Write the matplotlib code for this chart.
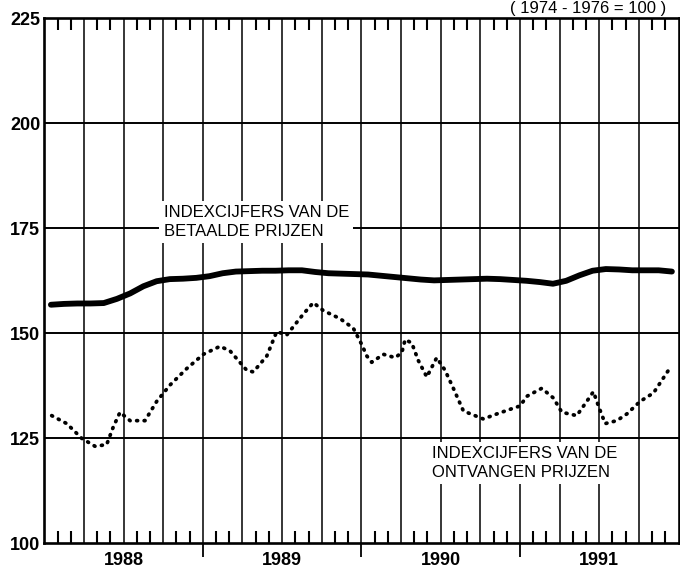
import matplotlib
matplotlib.use("Agg")
import matplotlib.pyplot as plt

plt.rcParams['font.family'] = ['Liberation Sans', 'DejaVu Sans']

# ---- data -------------------------------------------------------------
years = ['1988', '1989', '1990', '1991']
y_ticks = [100, 125, 150, 175, 200, 225]

# Indexcijfers van de betaalde prijzen (monthly, Jan 1988 - Dec 1991)
betaalde_months = [i + 0.5 for i in range(48)]
betaalde = [156.8, 157.0, 157.1, 157.1, 157.2, 158.2, 159.5, 161.2, 162.4, 162.9, 163.0, 163.2,
            163.6, 164.3, 164.7, 164.8, 164.9, 164.9, 165.0, 165.0, 164.6, 164.3, 164.2, 164.1,
            164.0, 163.7, 163.4, 163.1, 162.8, 162.6, 162.7, 162.8, 162.9, 163.0, 162.9, 162.7,
            162.5, 162.2, 161.8, 162.5, 163.8, 164.9, 165.3, 165.2, 165.0, 165.0, 165.0, 164.7]

# Indexcijfers van de ontvangen prijzen (read at turning points, months since Jan 1988)
ontvangen_months = [0.56, 1.7, 2.83, 3.84, 4.72, 5.22, 5.73, 6.49, 7.62, 8.51, 9.52, 10.78,
                    12.04, 13.3, 14.06, 15.32, 15.82, 16.84, 17.59, 18.35, 19.61, 20.36, 21.12,
                    22.38, 23.39, 24.03, 24.41, 24.78, 25.66, 26.55, 27.06, 27.31, 27.81, 28.31,
                    28.95, 29.7, 30.33, 30.96, 31.72, 33.23, 34.25, 35.25, 36.01, 36.52, 37.65,
                    38.53, 39.17, 40.3, 41.06, 41.56, 41.94, 42.45, 43.33, 44.09, 45.1, 46.11, 47.24]
ontvangen = [130.4, 128.5, 125.0, 123.1, 123.5, 127.7, 131.2, 129.2, 129.2, 133.8, 137.7, 141.6,
             145.0, 146.9, 145.8, 141.2, 140.8, 144.6, 150.4, 149.6, 154.6, 157.3, 155.4,
             153.5, 151.2, 147.3, 144.6, 143.1, 145.0, 144.2, 145.4, 148.5, 147.7, 143.5,
             139.6, 144.2, 141.2, 136.9, 131.5, 129.6, 130.8, 131.9, 132.7, 135.0, 136.9,
             134.6, 131.2, 130.4, 133.8, 136.1, 132.7, 128.5, 129.2, 130.8, 133.8, 135.8, 141.2]

label_betaalde = 'INDEXCIJFERS VAN DE\nBETAALDE PRIJZEN'
label_ontvangen = 'INDEXCIJFERS VAN DE\nONTVANGEN PRIJZEN'
basis_text = '( 1974 - 1976 = 100 )'

# ---- figure -----------------------------------------------------------
W, H = 680, 573
fig = plt.figure(figsize=(W / 100, H / 100), dpi=100)
ax = fig.add_axes([44.3 / W, 1 - 543.3 / H, 634.2 / W, 525 / H])

n_months = 12 * len(years)
ax.set_xlim(0, n_months)
ax.set_ylim(y_ticks[0], y_ticks[-1])

# grid
for q in range(3, n_months, 3):
    ax.axvline(q, color='black', lw=1.1, zorder=1)
for yv in y_ticks[1:-1]:
    ax.axhline(yv, color='black', lw=1.4, zorder=1)

for sp in ax.spines.values():
    sp.set_linewidth(1.9)

# y axis
ax.set_yticks(y_ticks)
ax.set_yticklabels([str(v) for v in y_ticks], fontsize=13, fontweight='bold')
ax.tick_params(axis='y', length=0, pad=3)

# x axis: year labels at centres, monthly minor ticks inside
ax.set_xticks([12 * k + 6 for k in range(len(years))])
ax.set_xticklabels(years, fontsize=13, fontweight='bold')
ax.tick_params(axis='x', which='major', length=0, pad=6)
ax.set_xticks([m for m in range(1, n_months) if m % 3 != 0], minor=True)
ax.tick_params(axis='x', which='minor', direction='in', length=8.5, width=1.5,
               top=True, bottom=True)

sec = ax.secondary_xaxis('bottom')
sec.set_xticks([12 * k for k in range(1, len(years))])
sec.tick_params(length=10, width=1.3, direction='out', labelbottom=False)
sec.spines['bottom'].set_visible(False)

# series
ax.plot(betaalde_months, betaalde, color='black', lw=4.2, solid_capstyle='round',
        solid_joinstyle='round', zorder=4)
ax.plot(ontvangen_months, ontvangen, color='black', lw=2.7, linestyle=(0, (0.25, 1.75)),
        dash_capstyle='round', zorder=4)

# labels
box = dict(facecolor='white', edgecolor='none', pad=3)
ax.text(0.188, 0.644, label_betaalde, transform=ax.transAxes, ha='left', va='top',
        fontsize=12, linespacing=1.3, bbox=box, zorder=3)
ax.text(0.611, 0.185, label_ontvangen, transform=ax.transAxes, ha='left', va='top',
        fontsize=12, linespacing=1.3, bbox=box, zorder=3)

fig.text(666 / W, 1 - 13 / H, basis_text, ha='right', va='baseline', fontsize=12)

fig.savefig('out.png', dpi=100)
